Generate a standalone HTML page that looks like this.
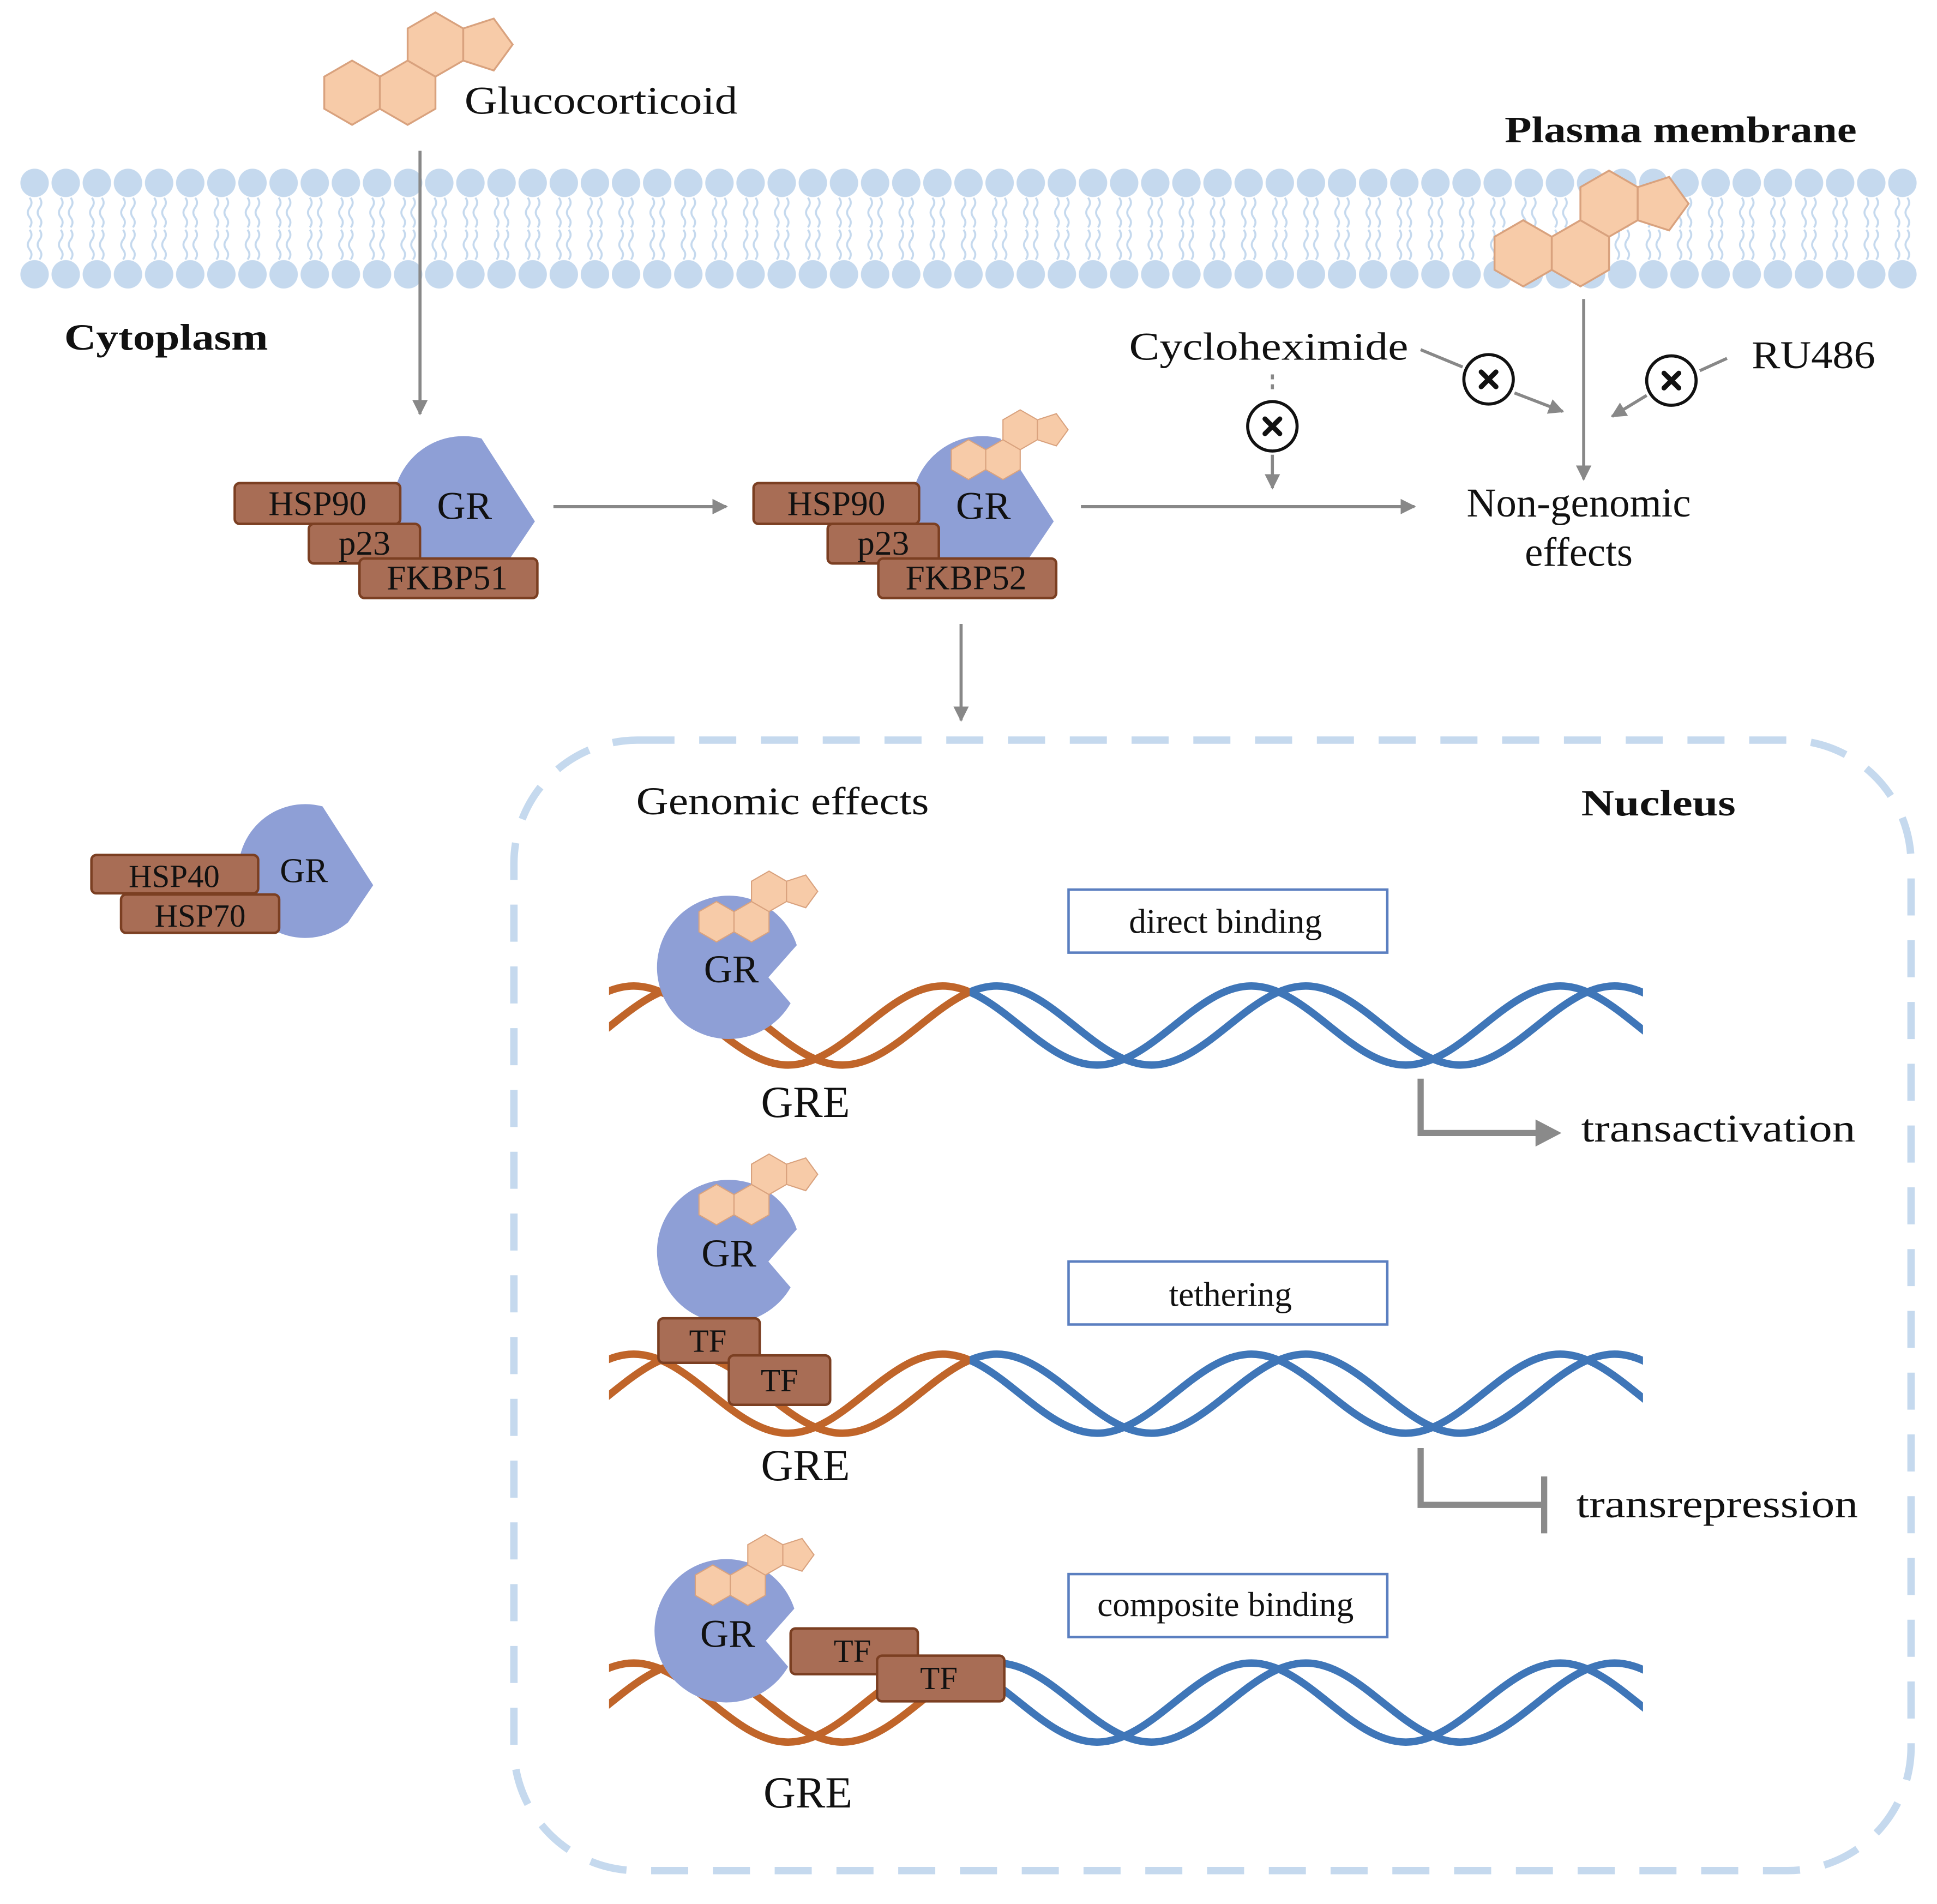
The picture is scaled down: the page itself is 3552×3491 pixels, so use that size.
<!DOCTYPE html>
<html><head><meta charset="utf-8"><style>
html,body{margin:0;padding:0;background:#fff;}
svg{display:block;}
text{font-family:"Liberation Serif",serif;fill:#111;}
</style></head><body>
<svg width="3552" height="3491" viewBox="0 0 1568 1541" xmlns="http://www.w3.org/2000/svg">
<defs>
<marker id="ah" viewBox="0 0 10 10" refX="9" refY="5" markerWidth="5" markerHeight="5" orient="auto"><path d="M0,0 L10,5 L0,10 Z" fill="#888"/></marker>
<g id="ster" fill="#f7cba8" stroke="#d9a27e" stroke-width="1.5">
<polygon points="0,-26 22.5,-13 22.5,13 0,26 -22.5,13 -22.5,-13"/>
<polygon points="45,-26 67.5,-13 67.5,13 45,26 22.5,13 22.5,-13"/>
<polygon points="67.5,-65 90,-52 90,-26 67.5,-13 45,-26 45,-52"/>
<polygon points="90,-52 90,-26 114.7,-18 130,-39 114.7,-60"/>
</g>
<path id="grp" d="M14.8,-55.1 A57,57 0 1,0 36.6,43.7 L58,12 Z" fill="#8e9fd6"/>
<path id="grn" d="M55,-18 A58,58 0 1,0 50,29 L32,8 Z" fill="#8e9fd6"/>
<path id="strand" fill="none" stroke-width="6" d="M388,32 C433,32 468,-32 513,-32 C558,-32 593,32 638,32 C683,32 718,-32 763,-32 C808,-32 843,32 888,32 C933,32 968,-32 1013,-32 C1058,-32 1093,32 1138,32 C1183,32 1218,-32 1263,-32 C1308,-32 1343,32 1388,32"/>
<clipPath id="co"><rect x="493" y="-1000" width="292" height="2000"/></clipPath>
<clipPath id="cb"><rect x="785" y="-1000" width="545" height="2000"/></clipPath>
<clipPath id="co3"><rect x="493" y="-1000" width="320" height="2000"/></clipPath>
<clipPath id="cb3"><rect x="813" y="-1000" width="517" height="2000"/></clipPath>
<pattern id="mem" x="15.4" y="0" width="25.2" height="300" patternUnits="userSpaceOnUse">
<circle cx="12.6" cy="148" r="11.5" fill="#c5d9ee"/>
<circle cx="12.6" cy="222" r="11.5" fill="#c5d9ee"/>
<path d="M8.6,160 q3,4 0,8 q-3,4 0,8 q3,4 0,8 M16.6,160 q3,4 0,8 q-3,4 0,8 q3,4 0,8 M8.6,186 q3,4 0,8 q-3,4 0,8 q3,4 0,8 M16.6,186 q3,4 0,8 q-3,4 0,8 q3,4 0,8" fill="none" stroke="#c5d9ee" stroke-width="1.6"/>
</pattern>
</defs>

<rect x="15" y="130" width="1538" height="110" fill="url(#mem)"/>

<use href="#ster" transform="translate(285,75)"/>
<text x="376" y="92" font-size="32" textLength="221" lengthAdjust="spacingAndGlyphs">Glucocorticoid</text>
<text x="1218" y="115" font-size="30" font-weight="bold" textLength="285" lengthAdjust="spacingAndGlyphs">Plasma membrane</text>
<use href="#ster" transform="translate(1233,205) scale(1.03)"/>
<text x="52" y="283" font-size="30" font-weight="bold" textLength="165" lengthAdjust="spacingAndGlyphs">Cytoplasm</text>

<g stroke="#888" stroke-width="2.5" fill="none">
<line x1="340" y1="122" x2="340" y2="335" marker-end="url(#ah)"/>
<line x1="448" y1="410" x2="588" y2="410" marker-end="url(#ah)"/>
<line x1="875" y1="410" x2="1145" y2="410" marker-end="url(#ah)"/>
<line x1="778" y1="505" x2="778" y2="583" marker-end="url(#ah)"/>
<line x1="1282" y1="242" x2="1282" y2="388" marker-end="url(#ah)"/>
<line x1="1030" y1="303" x2="1030" y2="315" stroke-dasharray="4 4"/>
<line x1="1030" y1="368" x2="1030" y2="395" marker-end="url(#ah)"/>
<line x1="1150" y1="283" x2="1184" y2="297"/>
<line x1="1226" y1="318" x2="1265" y2="333" marker-end="url(#ah)"/>
<line x1="1398" y1="290" x2="1376" y2="300"/>
<line x1="1333" y1="320" x2="1305" y2="337" marker-end="url(#ah)"/>
</g>
<g stroke="#111" stroke-width="2.5" fill="#fff">
<circle cx="1030" cy="345" r="20"/><circle cx="1205" cy="307" r="20"/><circle cx="1353" cy="308" r="20"/>
</g>
<g stroke="#111" stroke-width="4" stroke-linecap="round">
<path d="M1024,339 l12,12 M1036,339 l-12,12"/>
<path d="M1199,301 l12,12 M1211,301 l-12,12"/>
<path d="M1347,302 l12,12 M1359,302 l-12,12"/>
</g>
<text x="914" y="291" font-size="32" textLength="226" lengthAdjust="spacingAndGlyphs">Cycloheximide</text>
<text x="1418" y="298" font-size="32" textLength="100" lengthAdjust="spacingAndGlyphs">RU486</text>
<text x="1278" y="418" font-size="33" text-anchor="middle">Non-genomic</text>
<text x="1278" y="458" font-size="33" text-anchor="middle">effects</text>

<use href="#grp" transform="translate(375,410)"/>
<g fill="#a86d55" stroke="#7b3f22" stroke-width="2">
<rect x="190" y="391" width="134" height="33" rx="4"/>
<rect x="250" y="424" width="90" height="32" rx="4"/>
<rect x="291" y="452" width="144" height="32" rx="4"/>
</g>
<text x="257" y="417" font-size="28" text-anchor="middle">HSP90</text>
<text x="295" y="449" font-size="28" text-anchor="middle">p23</text>
<text x="362" y="477" font-size="28" text-anchor="middle">FKBP51</text>
<text x="376" y="420" font-size="32" text-anchor="middle">GR</text>

<use href="#grp" transform="translate(795,410)"/>
<use href="#ster" transform="translate(784,372) scale(0.62)"/>
<g fill="#a86d55" stroke="#7b3f22" stroke-width="2">
<rect x="610" y="391" width="134" height="33" rx="4"/>
<rect x="670" y="424" width="90" height="32" rx="4"/>
<rect x="711" y="452" width="144" height="32" rx="4"/>
</g>
<text x="677" y="417" font-size="28" text-anchor="middle">HSP90</text>
<text x="715" y="449" font-size="28" text-anchor="middle">p23</text>
<text x="782" y="477" font-size="28" text-anchor="middle">FKBP52</text>
<text x="796" y="420" font-size="32" text-anchor="middle">GR</text>

<use href="#grp" transform="translate(247,705) scale(0.95)"/>
<g fill="#a86d55" stroke="#7b3f22" stroke-width="2">
<rect x="74" y="692" width="135" height="31" rx="4"/>
<rect x="98" y="724" width="128" height="31" rx="4"/>
</g>
<text x="141" y="718" font-size="26" text-anchor="middle">HSP40</text>
<text x="162" y="750" font-size="26" text-anchor="middle">HSP70</text>
<text x="246" y="714" font-size="28" text-anchor="middle">GR</text>

<rect x="416" y="599" width="1131" height="915" rx="100" fill="none" stroke="#c5d9ee" stroke-width="6" stroke-dasharray="30 20"/>
<text x="515" y="659" font-size="32" textLength="237" lengthAdjust="spacingAndGlyphs">Genomic effects</text>
<text x="1280" y="660" font-size="30" font-weight="bold" textLength="125" lengthAdjust="spacingAndGlyphs">Nucleus</text>

<g fill="#fff" stroke="#5b7fc0" stroke-width="2">
<rect x="865" y="720" width="258" height="51"/>
<rect x="865" y="1021" width="258" height="51"/>
<rect x="865" y="1274" width="258" height="51"/>
</g>
<text x="992" y="755" font-size="28" text-anchor="middle">direct binding</text>
<text x="996" y="1057" font-size="28" text-anchor="middle">tethering</text>
<text x="992" y="1308" font-size="28" text-anchor="middle">composite binding</text>

<g transform="translate(0,830)">
<g clip-path="url(#co)" stroke="#c0652a"><use href="#strand"/><use href="#strand" transform="translate(44,0)"/></g>
<g clip-path="url(#cb)" stroke="#3f76b8"><use href="#strand"/><use href="#strand" transform="translate(44,0)"/></g>
</g>
<use href="#grn" transform="translate(590,783)"/>
<use href="#ster" transform="translate(580,746) scale(0.63)"/>
<text x="592" y="795" font-size="32" text-anchor="middle">GR</text>
<text x="652" y="904" font-size="36" text-anchor="middle">GRE</text>

<g transform="translate(0,1128)">
<g clip-path="url(#co)" stroke="#c0652a"><use href="#strand"/><use href="#strand" transform="translate(44,0)"/></g>
<g clip-path="url(#cb)" stroke="#3f76b8"><use href="#strand"/><use href="#strand" transform="translate(44,0)"/></g>
</g>
<use href="#grn" transform="translate(590,1013)"/>
<use href="#ster" transform="translate(580,975) scale(0.63)"/>
<text x="590" y="1025" font-size="32" text-anchor="middle">GR</text>
<g fill="#a86d55" stroke="#7b3f22" stroke-width="2">
<rect x="533" y="1067" width="82" height="36" rx="4"/>
<rect x="590" y="1097" width="82" height="40" rx="4"/>
</g>
<text x="573" y="1094" font-size="26" text-anchor="middle">TF</text>
<text x="631" y="1126" font-size="26" text-anchor="middle">TF</text>
<text x="652" y="1198" font-size="36" text-anchor="middle">GRE</text>

<g transform="translate(0,1378)">
<g clip-path="url(#co3)" stroke="#c0652a"><use href="#strand"/><use href="#strand" transform="translate(44,0)"/></g>
<g clip-path="url(#cb3)" stroke="#3f76b8"><use href="#strand"/><use href="#strand" transform="translate(44,0)"/></g>
</g>
<use href="#grn" transform="translate(588,1320)"/>
<use href="#ster" transform="translate(577,1283) scale(0.63)"/>
<text x="589" y="1333" font-size="32" text-anchor="middle">GR</text>
<g fill="#a86d55" stroke="#7b3f22" stroke-width="2">
<rect x="640" y="1318" width="103" height="37" rx="4"/>
<rect x="710" y="1340" width="103" height="37" rx="4"/>
</g>
<text x="690" y="1345" font-size="26" text-anchor="middle">TF</text>
<text x="760" y="1367" font-size="26" text-anchor="middle">TF</text>
<text x="654" y="1463" font-size="36" text-anchor="middle">GRE</text>

<path d="M1150,873 V917 H1245" fill="none" stroke="#8a8a8a" stroke-width="5"/>
<path d="M1243,906 L1264,917 L1243,928 Z" fill="#8a8a8a"/>
<text x="1280" y="924" font-size="32" textLength="222" lengthAdjust="spacingAndGlyphs">transactivation</text>
<path d="M1150,1172 V1218 H1250 M1250,1195 V1241" fill="none" stroke="#8a8a8a" stroke-width="5"/>
<text x="1276" y="1228" font-size="32" textLength="228" lengthAdjust="spacingAndGlyphs">transrepression</text>
</svg>
</body></html>
